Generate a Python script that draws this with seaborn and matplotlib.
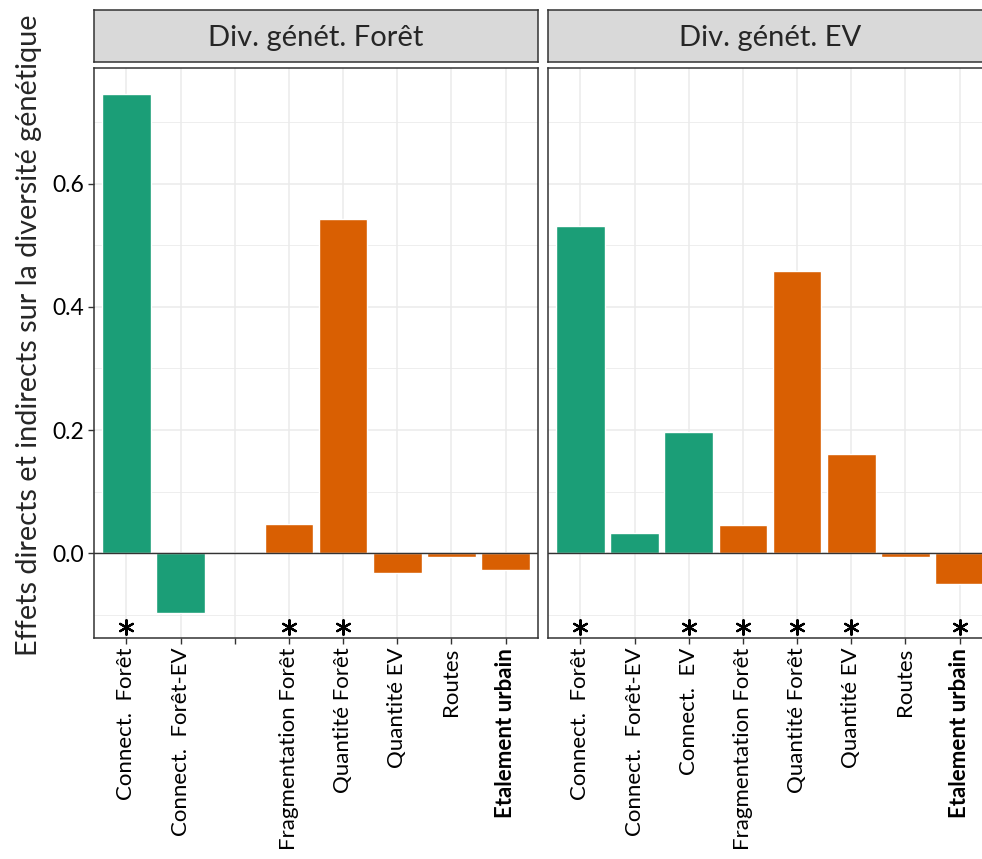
import numpy as np
import pandas as pd
import matplotlib
matplotlib.use("Agg")
import matplotlib.pyplot as plt
import seaborn as sns

sns.set_theme(style="white")
plt.rcParams['font.family'] = ['Lato', 'DejaVu Sans']

# ---- data ----
categories = ["Connect. Forêt", "Connect. Forêt-EV", "Connect. EV",
              "Fragmentation Forêt", "Quantité Forêt", "Quantité EV",
              "Routes", "Etalement urbain"]
groups = ["Connectivité", "Connectivité", "Connectivité",
          "Habitat", "Habitat", "Habitat", "Habitat", "Habitat"]
facets = ["Div. génét. Forêt", "Div. génét. EV"]
values_foret = [0.746, -0.097, np.nan, 0.047, 0.543, -0.032, -0.006, -0.028]
values_ev = [0.532, 0.033, 0.197, 0.046, 0.459, 0.161, -0.006, -0.050]
signif_foret = [True, False, False, True, True, False, False, False]
signif_ev = [True, False, True, True, True, True, False, True]
labels_foret = ["Connect.  Forêt", "Connect.  Forêt-EV", "",
                "Fragmentation Forêt", "Quantité Forêt", "Quantité EV",
                "Routes", "Etalement urbain"]
labels_ev = ["Connect.  Forêt", "Connect.  Forêt-EV", "Connect.  EV",
             "Fragmentation Forêt", "Quantité Forêt", "Quantité EV",
             "Routes", "Etalement urbain"]
y_ticks = [0.0, 0.2, 0.4, 0.6]
y_label = "Effets directs et indirects sur la diversité génétique"
star_y = -0.12

palette = {"Connectivité": "#1B9E77", "Habitat": "#D95F02"}

W, H = 982, 859
fig = plt.figure(figsize=(W / 100, H / 100), dpi=100)

def fx(px):
    return px / W

def fy(py):
    return 1 - py / H

panels = [(94, 538), (548, 992)]
p_top, p_bot = 68, 638
s_top, s_bot = 10, 62

data_sets = [(values_foret, signif_foret, labels_foret),
             (values_ev, signif_ev, labels_ev)]

for i, ((x0, x1), facet, (vals, sig, labs)) in enumerate(zip(panels, facets, data_sets)):
    ax = fig.add_axes([fx(x0), fy(p_bot), fx(x1 - x0), (p_bot - p_top) / H])
    df = pd.DataFrame({"cat": categories, "val": vals, "grp": groups})
    ax.set_axisbelow(True)
    sns.barplot(data=df, x="cat", y="val", hue="grp", order=categories,
                palette=palette, dodge=False, width=0.9, ax=ax,
                legend=False, saturation=1, errorbar=None)
    ax.set_xlim(-0.6, len(categories) - 1 + 0.6)
    ax.set_ylim(-0.1382, 0.7886)
    ax.axhline(0, color="#333333", lw=1.0, zorder=3)
    # stars
    sx = [categories.index(c) for c, s in zip(categories, sig) if s]
    ax.scatter(sx, [star_y] * len(sx), marker=(6, 2, 0),
               s=110, color="black", linewidths=1.6, zorder=4)
    ax.set_yticks(y_ticks)
    ax.set_yticks([-0.1, 0.1, 0.3, 0.5, 0.7], minor=True)
    ax.grid(True, which="major", color="#EBEBEB", lw=1.1)
    ax.grid(True, which="minor", axis="y", color="#EBEBEB", lw=0.6)
    ax.set_xticks(range(len(categories)))
    ax.set_xticklabels(labs, rotation=90, fontsize=16, color="black")
    ax.get_xticklabels()[-1].set_fontweight("bold")
    ax.set_xlabel("")
    ax.set_ylabel("")
    if i == 0:
        ax.set_yticklabels([f"{t:.1f}" for t in y_ticks], fontsize=16.5, color="black")
        ax.tick_params(axis="y", which="major", length=4, color="#333333", width=1, left=True, pad=3)
        ax.set_ylabel(y_label, fontsize=20.8)
        ax.yaxis.set_label_coords(-(94 - 42) / (x1 - x0), (p_bot - 335) / (p_bot - p_top))
    else:
        ax.set_yticklabels([])
        ax.tick_params(axis="y", which="both", length=0)
    ax.tick_params(axis="y", which="minor", length=0)
    ax.tick_params(axis="x", length=4, color="#333333", width=1, bottom=True, pad=3)
    for sp in ax.spines.values():
        sp.set_color("#333333")
        sp.set_linewidth(1.1)
    # strip
    sax = fig.add_axes([fx(x0), fy(s_bot), fx(x1 - x0), (s_bot - s_top) / H])
    sax.set_facecolor("#D9D9D9")
    sax.set_xticks([])
    sax.set_yticks([])
    for sp in sax.spines.values():
        sp.set_color("#333333")
        sp.set_linewidth(1.1)
    sax.text(0.5, 0.47, facet, ha="center", va="center", fontsize=21,
             transform=sax.transAxes)

fig.savefig("out.png", dpi=100)
